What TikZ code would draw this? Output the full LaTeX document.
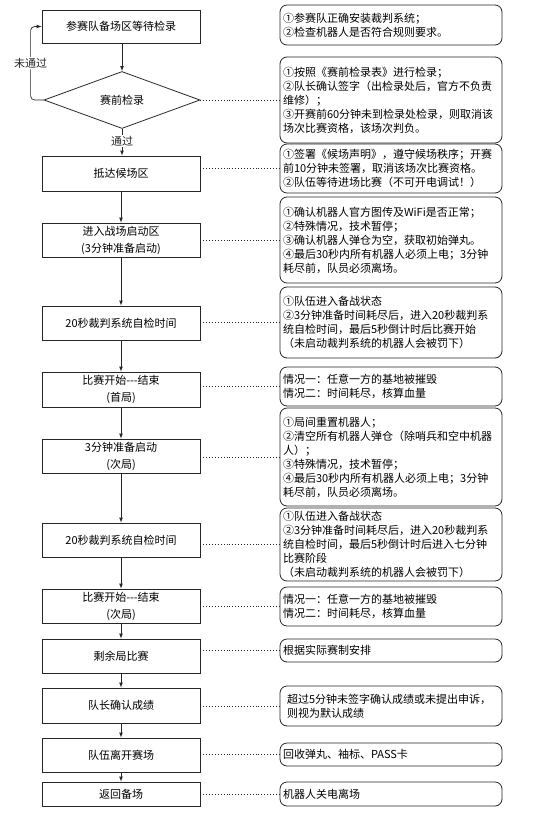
\documentclass[tikz,border=0pt]{standalone}
\usepackage{fontspec}
\setmainfont{Noto Sans CJK SC}
\usetikzlibrary{shapes.geometric}

\tikzset{
	stage/.style={draw=black!85,line width=0.8pt,minimum width=158pt,inner sep=0pt,align=center,font=\fontsize{11pt}{17pt}\selectfont},
	note/.style={draw=black!85,line width=0.8pt,rounded corners=7pt,text width=216pt,inner xsep=3pt,inner ysep=0pt,align=left,font=\fontsize{11pt}{14pt}\selectfont},
	flow/.style={-latex,line width=0.7pt,black!85},
	link/.style={dotted,line width=0.9pt,black!85}
}

\begin{document}
\begin{tikzpicture}[x=1pt,y=-1pt]
		\useasboundingbox (0,0) rectangle (552,817);
		\begin{scope}
			\node[stage,minimum height=33pt] (b1) at (121,26.5) {参赛队备场区等待检录};
			\node[stage,shape=diamond,aspect=2.7,minimum width=156pt,minimum height=57pt] (chk) at (122,100) {赛前检录};
			\node[stage,minimum height=35pt] (b3) at (121,173.5) {抵达候场区};
			\node[stage,minimum height=34pt] (b4) at (121,240) {进入战场启动区\\(3分钟准备启动)};
			\node[stage,minimum height=34pt] (b5) at (121,323) {20秒裁判系统自检时间};
			\node[stage,minimum height=35pt] (b6) at (121,389.5) {比赛开始-{}-{}-结束\\(首局)};
			\node[stage,minimum height=34pt] (b7) at (121,456) {3分钟准备启动\\(次局)};
			\node[stage,minimum height=34pt] (b8) at (121,540) {20秒裁判系统自检时间};
			\node[stage,minimum height=34pt] (b9) at (121,606) {比赛开始-{}-{}-结束\\(次局)};
			\node[stage,minimum height=34pt] (b10) at (121,656) {剩余局比赛};
			\node[stage,minimum height=35pt] (b11) at (121,705.5) {队长确认成绩};
			\node[stage,minimum height=34pt] (b12) at (121,755) {队伍离开赛场};
			\node[stage,minimum height=24pt] (b13) at (121,794) {返回备场};
		\end{scope}
		\begin{scope}
			\node[note,minimum height=40pt] (n1) at (391,25) {①参赛队正确安装裁判系统；\\②检查机器人是否符合规则要求。};
			\node[note,minimum height=86pt] (n2) at (391,100) {①按照《赛前检录表》进行检录；\\②队长确认签字（出检录处后，官方不负责\\维修）；\\③开赛前60分钟未到检录处检录，则取消该\\场次比赛资格，该场次判负。};
			\node[note,minimum height=49pt] (n3) at (391,168.5) {①签署《候场声明》，遵守候场秩序；开赛\\前10分钟未签署，取消该场次比赛资格。\\②队伍等待进场比赛（不可开电调试！）};
			\node[note,minimum height=86pt] (n4) at (391,240) {①确认机器人官方图传及WiFi是否正常；\\②特殊情况，技术暂停；\\③确认机器人弹仓为空，获取初始弹丸。\\④最后30秒内所有机器人必须上电；3分钟\\耗尽前，队员必须离场。};
			\node[note,minimum height=71pt] (n5) at (391,322.5) {①队伍进入备战状态\\②3分钟准备时间耗尽后，进入20秒裁判系\\统自检时间，最后5秒倒计时后比赛开始\\（未启动裁判系统的机器人会被罚下）};
			\node[note,minimum height=39pt] (n6) at (391,386.5) {情况一：任意一方的基地被摧毁\\情况二：时间耗尽，核算血量};
			\node[note,minimum height=98pt] (n7) at (391,457) {①局间重置机器人；\\②清空所有机器人弹仓（除哨兵和空中机器\\人）；\\③特殊情况，技术暂停；\\④最后30秒内所有机器人必须上电；3分钟\\耗尽前，队员必须离场。};
			\node[note,minimum height=73pt] (n8) at (391,544.5) {①队伍进入备战状态\\②3分钟准备时间耗尽后，进入20秒裁判系\\统自检时间，最后5秒倒计时后进入七分钟\\比赛阶段\\（未启动裁判系统的机器人会被罚下）};
			\node[note,minimum height=39pt] (n9) at (391,606.5) {情况一：任意一方的基地被摧毁\\情况二：时间耗尽，核算血量};
			\node[note,minimum height=23pt] (n10) at (391,650.5) {根据实际赛制安排};
			\node[note,minimum height=40pt,text width=208pt,inner xsep=7pt] (n11) at (391,706) {超过5分钟未签字确认成绩或未提出申诉，\\则视为默认成绩};
			\node[note,minimum height=23pt] (n12) at (391,754.5) {回收弹丸、袖标、PASS卡};
			\node[note,minimum height=24pt] (n13) at (391,794) {机器人关电离场};
		\end{scope}
		\draw[flow] (b1.south -| chk.north) -- (chk.north);
		\draw[flow,rounded corners=4pt] (chk.west) -- ++(-13,0) |- node[pos=0.25,fill=white,inner sep=1pt,font=\fontsize{11pt}{13pt}\selectfont]{未通过} (b1.west);
		\draw[flow] (chk.south) -- node[pos=0.45,fill=white,inner sep=1pt,font=\fontsize{11pt}{13pt}\selectfont]{通过} (b3.north -| chk.south);
		\foreach \a/\b in {b3/b4,b4/b5,b5/b6,b6/b7,b7/b8,b8/b9,b9/b10,b10/b11,b11/b12,b12/b13}
			\draw[flow] (\a) -- (\b);
		\draw[link] (chk.east) -- (n2.west);
		\foreach \i in {3,...,13}
			\draw[link] (b\i.east |- n\i.west) -- (n\i.west);
	\end{tikzpicture}
\end{document}
